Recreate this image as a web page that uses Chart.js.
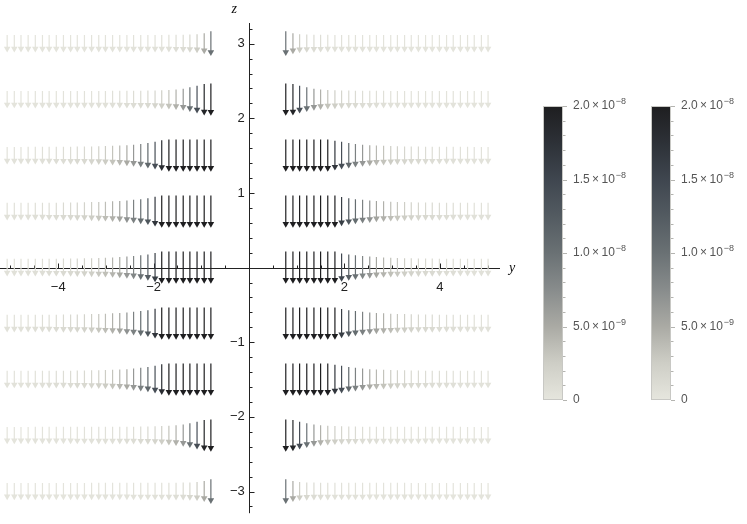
<!DOCTYPE html>
<html>
<head>
<meta charset="utf-8">
<script src="https://cdn.jsdelivr.net/npm/chart.js@4/dist/chart.umd.min.js"></script>
<style>
html, body { margin: 0; padding: 0; background: #fff; }
#wrap { width: 747px; height: 524px; }
</style>
</head>
<body>
<div id="wrap"><canvas id="fieldChart"></canvas></div>
<script>
// rows of the vector grid (z) and the columns on each side of the gap (y)
const zRows = [3, 2.25, 1.5, 0.75, 0, -0.75, -1.5, -2.25, -3];
const yLeft = [-5.07, -4.92, -4.78, -4.63, -4.48, -4.33, -4.19, -4.04, -3.89, -3.74,
               -3.60, -3.45, -3.30, -3.15, -3.01, -2.86, -2.71, -2.56, -2.42, -2.27,
               -2.12, -1.97, -1.83, -1.68, -1.53, -1.38, -1.24, -1.09, -0.94, -0.80];
const yRight = [0.77, 0.92, 1.06, 1.21, 1.36, 1.50, 1.65, 1.80, 1.94, 2.09,
                2.23, 2.38, 2.53, 2.67, 2.82, 2.97, 3.11, 3.26, 3.40, 3.55,
                3.70, 3.84, 3.99, 4.14, 4.28, 4.43, 4.58, 4.72, 4.87, 5.01];

// field magnitude in units of 1e-9, read from the arrow shades
// right side, listed from the axis outwards
const magR3  = [10, 5, 2.5, 1.5, 1, 0.8, 0.6, 0.5, 0.5, 0.4, 0.4, 0.4, 0.3, 0.3, 0.3, 0.3, 0.3, 0.3, 0.2, 0.2, 0.2, 0.2, 0.2, 0.2, 0.2, 0.2, 0.2, 0.2, 0.2, 0.2];
const magR2  = [20, 19, 14, 10, 6.5, 4.5, 3.2, 2.4, 1.8, 1.4, 1.1, 0.9, 0.8, 0.7, 0.6, 0.5, 0.5, 0.4, 0.4, 0.4, 0.3, 0.3, 0.3, 0.3, 0.3, 0.3, 0.2, 0.2, 0.2, 0.2];
const magR15 = [20, 20, 20, 20, 20, 20, 20, 17, 14, 11, 8.5, 6.5, 5, 4, 3.2, 2.6, 2.1, 1.7, 1.4, 1.2, 1, 0.9, 0.8, 0.7, 0.6, 0.5, 0.5, 0.4, 0.4, 0.4];
const magR07 = [20, 20, 20, 20, 20, 20, 20, 20, 16, 13, 10.5, 8.5, 7, 5.5, 4.5, 3.6, 3, 2.5, 2, 1.7, 1.4, 1.2, 1, 0.9, 0.8, 0.7, 0.6, 0.5, 0.5, 0.5];
const magR0  = [20, 20, 20, 20, 20, 20, 20, 20, 15, 12, 10, 8, 6.5, 5.2, 4.3, 3.5, 2.9, 2.4, 2, 1.7, 1.4, 1.2, 1, 0.9, 0.8, 0.7, 0.6, 0.5, 0.5, 0.5];
// left side, listed from the far left towards the axis
const magL3  = [0.2, 0.2, 0.2, 0.2, 0.2, 0.2, 0.2, 0.2, 0.2, 0.2, 0.2, 0.2, 0.3, 0.3, 0.3, 0.3, 0.3, 0.3, 0.4, 0.4, 0.4, 0.5, 0.5, 0.6, 0.8, 1, 1.5, 2.5, 5, 10];
const magL2  = [0.2, 0.2, 0.2, 0.2, 0.3, 0.3, 0.3, 0.3, 0.3, 0.3, 0.4, 0.4, 0.4, 0.5, 0.5, 0.6, 0.7, 0.8, 0.9, 1.1, 1.4, 1.8, 2.4, 3.2, 4.5, 6.5, 10, 14, 19, 20];
const magL15 = [0.4, 0.4, 0.4, 0.5, 0.5, 0.6, 0.7, 0.8, 0.9, 1, 1.2, 1.4, 1.7, 2.1, 2.6, 3.2, 4, 5, 6.5, 8.5, 11, 14, 18, 20, 20, 20, 20, 20, 20, 20];
const magL07 = [0.5, 0.5, 0.5, 0.6, 0.7, 0.8, 0.9, 1, 1.2, 1.4, 1.7, 2, 2.5, 3, 3.6, 4.5, 5.5, 7, 8.5, 10.5, 13, 17, 20, 20, 20, 20, 20, 20, 20, 20];
const magL0  = [0.5, 0.5, 0.5, 0.6, 0.7, 0.8, 0.9, 1, 1.2, 1.4, 1.7, 2, 2.4, 2.9, 3.5, 4.3, 5.2, 6.5, 8, 10, 12, 16, 20, 20, 20, 20, 20, 20, 20, 20];

const leftRows  = [magL3, magL2, magL15, magL07, magL0, magL07, magL15, magL2, magL3];
const rightRows = [magR3, magR2, magR15, magR07, magR0, magR07, magR15, magR2, magR3];

// axis ticks
const yTickVals = [-4, -2, 2, 4];
const zTickVals = [-3, -2, -1, 1, 2, 3];
const barTickVals = [0, 5, 10, 15, 20];
const barTickLabels = [['0', ''], ['5.0\u2009\u00d7\u200910', '\u22129'], ['1.0\u2009\u00d7\u200910', '\u22128'], ['1.5\u2009\u00d7\u200910', '\u22128'], ['2.0\u2009\u00d7\u200910', '\u22128']];

// grey-tones colour ramp (value in 1e-9)
const rampStops = [
    [0, [230, 230, 222]], [2.5, [206, 206, 198]], [5, [170, 170, 164]], [7.5, [136, 140, 140]],
    [10, [106, 113, 116]], [12.5, [83, 91, 97]], [15, [63, 70, 79]], [17.5, [45, 49, 55]], [20, [30, 30, 32]]
];

function rampColor(m) {
    const v = Math.max(0, Math.min(20, m));
    for (let i = 1; i < rampStops.length; i++) {
        if (v <= rampStops[i][0]) {
            const [a, ca] = rampStops[i - 1];
            const [b, cb] = rampStops[i];
            const t = (v - a) / (b - a);
            const c = ca.map((q, k) => Math.round(q + (cb[k] - q) * t));
            return `rgb(${c[0]},${c[1]},${c[2]})`;
        }
    }
    return 'rgb(30,30,32)';
}

// arrow size in z units
const LEN_MIN = 0.23, LEN_SPAN = 0.2, HEAD_R = 3.8, Z_PX = 75.6;
function arrowLen(m) { return LEN_MIN + LEN_SPAN * Math.min(m, 20) / 20; }

// per row: flat list of magnitudes and line points (top, head, gap)
const rowMags = zRows.map((z, r) => leftRows[r].concat(rightRows[r]));
const yAll = yLeft.concat(yRight);

const datasets = zRows.map((z, r) => {
    const pts = [];
    yAll.forEach((y, c) => {
        const half = arrowLen(rowMags[r][c]) / 2;
        pts.push({ x: y, y: z + half });
        pts.push({ x: y, y: z - half + HEAD_R / Z_PX });
        pts.push({ x: y, y: null });
    });
    return {
        data: pts,
        borderWidth: 1.2,
        borderColor: '#888',
        segment: {
            borderColor: ctx => rampColor(rowMags[ctx.datasetIndex][Math.floor(ctx.p0DataIndex / 3)])
        },
        pointStyle: 'triangle',
        pointRotation: 180,
        pointRadius: ctx => (ctx.dataIndex % 3 === 1 ? HEAD_R : 0),
        pointHoverRadius: ctx => (ctx.dataIndex % 3 === 1 ? HEAD_R : 0),
        pointBorderWidth: 0,
        pointBackgroundColor: ctx => rampColor(rowMags[ctx.datasetIndex][Math.floor(ctx.dataIndex / 3)]),
        spanGaps: false
    };
});

const tickFont = { family: 'Liberation Sans, Arial, sans-serif', size: 13 };

function numLabel(v) {
    return v < 0 ? '\u2212' + Math.abs(v) : String(v);
}

const axesPlugin = {
    id: 'axesThroughOrigin',
    beforeDatasetsDraw(chart) {
        const { ctx, scales: { x, y } } = chart;
        const x0 = Math.round(x.getPixelForValue(0)) + 0.5;
        const y0 = Math.round(y.getPixelForValue(0)) + 0.5;
        ctx.save();
        ctx.strokeStyle = '#222';
        ctx.lineWidth = 1;
        ctx.beginPath();
        ctx.moveTo(x.left, y0); ctx.lineTo(x.right, y0);
        ctx.moveTo(x0, y.top); ctx.lineTo(x0, y.bottom);
        ctx.stroke();
        // ticks on the horizontal axis, every 0.5, pointing up
        ctx.beginPath();
        for (let v = -5; v <= 5; v += 0.5) {
            if (v === 0) continue;
            const px = Math.round(x.getPixelForValue(v)) + 0.5;
            const len = Number.isInteger(v / 2) ? 5 : 3;
            ctx.moveTo(px, y0); ctx.lineTo(px, y0 - len);
        }
        // ticks on the vertical axis, every 0.2, pointing right
        for (let k = -16; k <= 16; k++) {
            if (k === 0) continue;
            const v = k * 0.2;
            const py = Math.round(y.getPixelForValue(v)) + 0.5;
            const len = k % 5 === 0 ? 5 : 3;
            ctx.moveTo(x0, py); ctx.lineTo(x0 + len, py);
        }
        ctx.stroke();
        // axis names
        ctx.fillStyle = '#111';
        ctx.font = 'italic 14px Liberation Serif, Times New Roman, serif';
        ctx.textAlign = 'left';
        ctx.textBaseline = 'middle';
        ctx.fillText('z', x0 - 18, 9);
        ctx.fillText('y', x.right + 9, y0);
        ctx.restore();
    }
};

const colorBarPlugin = {
    id: 'colorBars',
    afterDraw(chart) {
        const { ctx } = chart;
        const top = 106, bottom = 400, w = 20;
        [543, 651].forEach(left => {
            const grad = ctx.createLinearGradient(0, bottom, 0, top);
            rampStops.forEach(([v, c]) => grad.addColorStop(v / 20, `rgb(${c[0]},${c[1]},${c[2]})`));
            ctx.save();
            ctx.fillStyle = grad;
            ctx.fillRect(left, top, w, bottom - top);
            ctx.strokeStyle = '#c8c8c4';
            ctx.lineWidth = 1;
            ctx.strokeRect(left + 0.5, top + 0.5, w - 1, bottom - top - 1);
            // minor ticks every 1e-9
            ctx.beginPath();
            for (let v = 0; v <= 20; v++) {
                const py = Math.round(bottom - (bottom - top) * v / 20) + 0.5;
                const len = v % 5 === 0 ? 4 : 2.5;
                ctx.moveTo(left + w, py); ctx.lineTo(left + w + len, py);
            }
            ctx.strokeStyle = '#b4b4b0';
            ctx.stroke();
            // labels
            ctx.fillStyle = '#555';
            ctx.textBaseline = 'middle';
            ctx.textAlign = 'left';
            barTickVals.forEach((v, i) => {
                const py = bottom - (bottom - top) * v / 20;
                const [base, exp] = barTickLabels[i];
                ctx.font = '12px Liberation Sans, Arial, sans-serif';
                ctx.fillText(base, left + 30, py);
                if (exp) {
                    const bw = ctx.measureText(base).width;
                    ctx.font = '9px Liberation Sans, Arial, sans-serif';
                    ctx.fillText(exp, left + 30 + bw + 1, py - 4);
                }
            });
            ctx.restore();
        });
    }
};

new Chart(document.getElementById('fieldChart'), {
    type: 'line',
    data: { datasets },
    options: {
        responsive: true,
        maintainAspectRatio: false,
        animation: false,
        events: [],
        layout: { padding: { left: 0, right: 247, top: 23, bottom: 4 } },
        plugins: { legend: { display: false }, tooltip: { enabled: false } },
        scales: {
            x: {
                type: 'linear',
                min: -5.22, max: 5.26,
                position: { y: 0 },
                grid: { display: false },
                border: { display: false },
                ticks: { font: tickFont, color: '#222', padding: 4, maxRotation: 0, autoSkip: false, callback: v => numLabel(v) },
                afterBuildTicks: s => { s.ticks = yTickVals.map(v => ({ value: v })); },
                afterFit: s => { s.height = 0; }
            },
            y: {
                type: 'linear',
                min: -3.29, max: 3.277,
                // labels sit just left of the z axis, which is drawn by the plugin at y = 0
                position: { x: -0.09 },
                grid: { display: false },
                border: { display: false },
                ticks: { font: tickFont, color: '#222', autoSkip: false, callback: v => numLabel(v) },
                afterBuildTicks: s => { s.ticks = zTickVals.map(v => ({ value: v })); },
                afterFit: s => { s.width = 0; }
            }
        }
    },
    plugins: [axesPlugin, colorBarPlugin]
});
</script>
</body>
</html>
